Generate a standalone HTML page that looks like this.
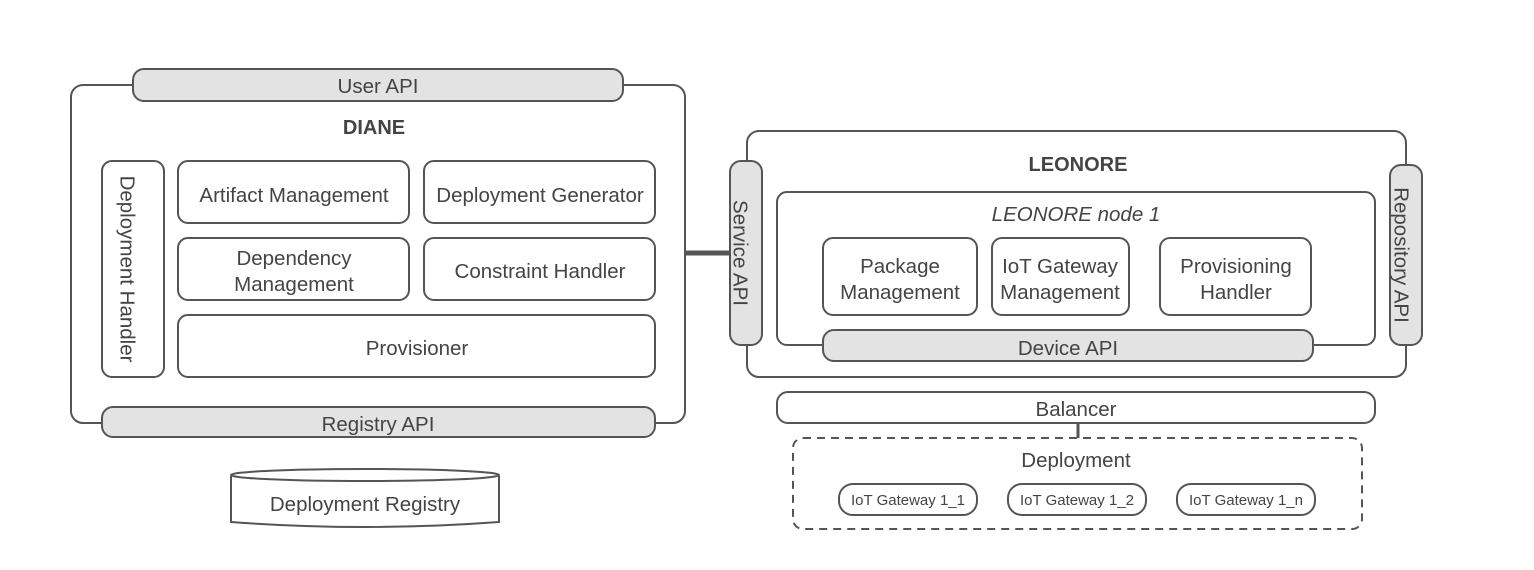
<!DOCTYPE html>
<html><head><meta charset="utf-8"><style>
html,body{margin:0;padding:0;background:#fff;}
svg{display:block;}
text{font-family:"Liberation Sans",sans-serif;fill:#444;font-size:20.5px;}
</style></head><body>
<svg width="1534" height="570" viewBox="0 0 1534 570" xmlns="http://www.w3.org/2000/svg">
<g fill="none" stroke="#555" stroke-width="2">
<rect x="71" y="85" width="614" height="338" rx="12" fill="#fff"/>
<rect x="133" y="69" width="490" height="32" rx="11" fill="#e3e3e3"/>
<rect x="102" y="161" width="62" height="216" rx="10" fill="#fff"/>
<rect x="178" y="161" width="231" height="62" rx="10" fill="#fff"/>
<rect x="424" y="161" width="231" height="62" rx="10" fill="#fff"/>
<rect x="178" y="238" width="231" height="62" rx="10" fill="#fff"/>
<rect x="424" y="238" width="231" height="62" rx="10" fill="#fff"/>
<rect x="178" y="315" width="477" height="62" rx="10" fill="#fff"/>
<rect x="102" y="407" width="553" height="30" rx="11" fill="#e3e3e3"/>
<path d="M231 476 L231 522 Q365 532 499 522 L499 476" fill="#fff"/>
<ellipse cx="365" cy="475" rx="134" ry="6" fill="#fff"/>
<line x1="685" y1="253" x2="731" y2="253" stroke-width="5"/>
<rect x="747" y="131" width="659" height="246" rx="12" fill="#fff"/>
<rect x="730" y="161" width="32" height="184" rx="11" fill="#e3e3e3"/>
<rect x="1390" y="165" width="32" height="180" rx="11" fill="#e3e3e3"/>
<rect x="777" y="192" width="598" height="153" rx="10" fill="#fff"/>
<rect x="823" y="238" width="154" height="77" rx="10" fill="#fff"/>
<rect x="992" y="238" width="137" height="77" rx="10" fill="#fff"/>
<rect x="1160" y="238" width="151" height="77" rx="10" fill="#fff"/>
<rect x="823" y="330" width="490" height="31" rx="11" fill="#e3e3e3"/>
<rect x="777" y="392" width="598" height="31" rx="11" fill="#fff"/>
<line x1="1078" y1="423" x2="1078" y2="438" stroke-width="3"/>
<rect x="793" y="438" width="569" height="91" rx="10" fill="#fff" stroke-dasharray="8,6"/>
<rect x="839" y="484" width="138" height="31" rx="14" fill="#fff"/>
<rect x="1008" y="484" width="138" height="31" rx="14" fill="#fff"/>
<rect x="1177" y="484" width="138" height="31" rx="14" fill="#fff"/>
</g>
<g text-anchor="middle">
<text x="378" y="93">User API</text>
<text x="374" y="134" style="font-weight:bold;font-size:20px">DIANE</text>
<text transform="translate(126,269) rotate(90)" dominant-baseline="middle">Deployment Handler</text>
<text x="294" y="202">Artifact Management</text>
<text x="540" y="202">Deployment Generator</text>
<text x="294" y="265">Dependency</text>
<text x="294" y="291">Management</text>
<text x="540" y="278">Constraint Handler</text>
<text x="417" y="355">Provisioner</text>
<text x="378" y="431">Registry API</text>
<text x="365" y="511">Deployment Registry</text>
<text x="1078" y="171" style="font-weight:bold;font-size:20px">LEONORE</text>
<text transform="translate(739,253) rotate(90)" dominant-baseline="middle">Service API</text>
<text transform="translate(1400,255) rotate(90)" dominant-baseline="middle">Repository API</text>
<text x="1076" y="221" style="font-style:italic">LEONORE node 1</text>
<text x="900" y="273">Package</text>
<text x="900" y="299">Management</text>
<text x="1060" y="273">IoT Gateway</text>
<text x="1060" y="299">Management</text>
<text x="1236" y="273">Provisioning</text>
<text x="1236" y="299">Handler</text>
<text x="1068" y="355">Device API</text>
<text x="1076" y="416">Balancer</text>
<text x="1076" y="467">Deployment</text>
<text x="908" y="505" style="font-size:15px">IoT Gateway 1_1</text>
<text x="1077" y="505" style="font-size:15px">IoT Gateway 1_2</text>
<text x="1246" y="505" style="font-size:15px">IoT Gateway 1_n</text>
</g>
</svg>
</body></html>
